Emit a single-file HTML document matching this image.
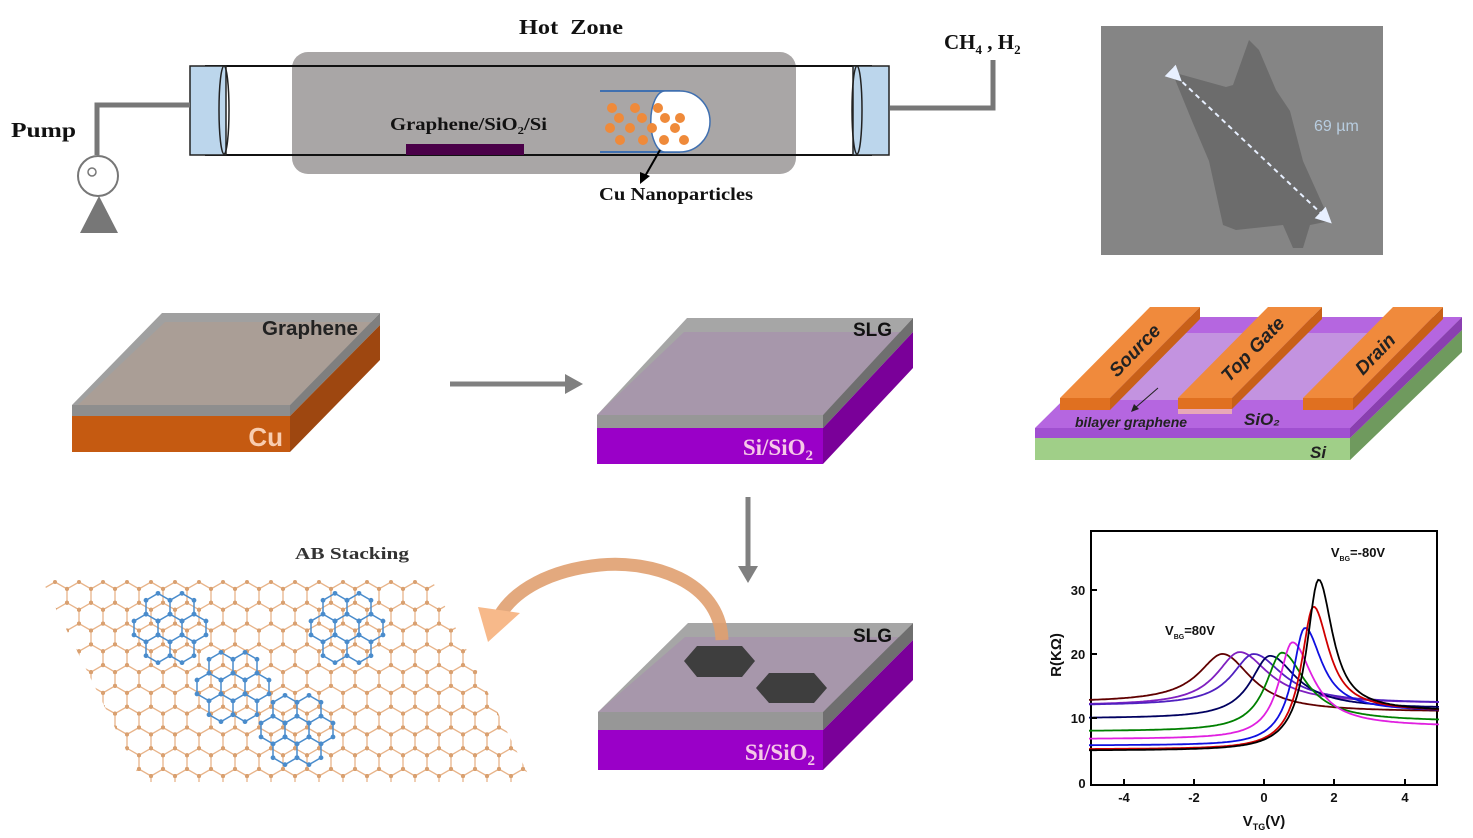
<!DOCTYPE html>
<html><head><meta charset="utf-8"><style>
html,body{margin:0;padding:0;background:#fff;}
svg{display:block;}
.tb{font-family:"Liberation Serif",serif;font-weight:bold;}
.sb{font-family:"Liberation Sans",sans-serif;font-weight:bold;}
</style></head><body>
<svg id="s" width="1473" height="838" viewBox="0 0 1473 838" xmlns="http://www.w3.org/2000/svg">
<defs>
<clipPath id="lat"><polygon points="40,576 430,576 532,782 142,782"/></clipPath>
<marker id="ah" markerWidth="8" markerHeight="8" refX="4" refY="4" orient="auto"><path d="M0,0 L8,4 L0,8 z" fill="#e8f0ff"/></marker>
</defs>

<!-- ===== Top CVD schematic ===== -->
<text x="519" y="34" class="tb" font-size="21" fill="#111" textLength="104" lengthAdjust="spacingAndGlyphs">Hot&#160; Zone</text>
<rect x="292" y="52" width="504" height="122" rx="16" fill="#a9a6a6"/>
<line x1="205" y1="66" x2="872" y2="66" stroke="#111" stroke-width="2"/>
<line x1="205" y1="155" x2="872" y2="155" stroke="#111" stroke-width="2"/>
<rect x="190" y="66" width="36" height="89" fill="#bcd6ec" stroke="#222" stroke-width="1.5"/>
<ellipse cx="224" cy="110" rx="5" ry="44" fill="none" stroke="#222" stroke-width="1.5"/>
<rect x="853" y="66" width="36" height="89" fill="#bcd6ec" stroke="#222" stroke-width="1.5"/>
<ellipse cx="857" cy="110" rx="5" ry="44" fill="none" stroke="#222" stroke-width="1.5"/>
<path d="M190,105 L97,105 L97,155" fill="none" stroke="#777" stroke-width="5"/>
<path d="M890,108 L993,108 L993,60" fill="none" stroke="#777" stroke-width="5"/>
<circle cx="98" cy="176" r="20" fill="#fff" stroke="#777" stroke-width="2"/>
<circle cx="92" cy="172" r="4" fill="none" stroke="#777" stroke-width="1.5"/>
<polygon points="80,233 118,233 99,196" fill="#777"/>
<text x="11" y="137" class="tb" font-size="21" fill="#111" textLength="65" lengthAdjust="spacingAndGlyphs">Pump</text>
<text x="944" y="49" class="tb" font-size="21" fill="#111">CH<tspan font-size="13" dy="5">4</tspan><tspan dy="-5"> , H</tspan><tspan font-size="13" dy="5">2</tspan></text>
<rect x="406" y="144" width="118" height="11" fill="#4a0048"/>
<text x="390" y="130" class="tb" font-size="18" fill="#111" textLength="157" lengthAdjust="spacingAndGlyphs">Graphene/SiO<tspan font-size="11" dy="4">2</tspan><tspan dy="-4">/Si</tspan></text>
<line x1="600" y1="91" x2="680" y2="91" stroke="#4070b0" stroke-width="2"/>
<line x1="600" y1="152" x2="680" y2="152" stroke="#4070b0" stroke-width="2"/>
<path d="M665,91 L680,91 A30,30.5 0 0 1 680,152 L665,152 A14,30 0 0 1 665,91 z" fill="#fff" stroke="#4070b0" stroke-width="1.5"/>
<g fill="#ef8a3a">
<circle cx="612" cy="108" r="5"/><circle cx="635" cy="108" r="5"/><circle cx="658" cy="108" r="5"/>
<circle cx="619" cy="118" r="5"/><circle cx="642" cy="118" r="5"/><circle cx="665" cy="118" r="5"/><circle cx="680" cy="118" r="5"/>
<circle cx="610" cy="128" r="5"/><circle cx="630" cy="128" r="5"/><circle cx="652" cy="128" r="5"/><circle cx="675" cy="128" r="5"/>
<circle cx="620" cy="140" r="5"/><circle cx="643" cy="140" r="5"/><circle cx="664" cy="140" r="5"/><circle cx="684" cy="140" r="5"/>
</g>
<line x1="660" y1="150" x2="644" y2="178" stroke="#000" stroke-width="2"/>
<polygon points="640,184 640,172 650,176" fill="#000"/>
<text x="599" y="200" class="tb" font-size="18" fill="#111" textLength="154" lengthAdjust="spacingAndGlyphs">Cu Nanoparticles</text>

<!-- ===== SEM image ===== -->
<rect x="1101" y="26" width="282" height="229" fill="#858585"/>
<polygon points="1172,72 1226,87 1233,85 1249,40 1259,50 1276,90 1290,111 1303,161 1330,221 1310,225 1303,248 1293,248 1283,225 1236,230 1223,225 1209,161 1192,121" fill="#6c6c6c"/>
<line x1="1176" y1="76" x2="1326" y2="218" stroke="#e8f0ff" stroke-width="2" stroke-dasharray="5,4" marker-start="url(#ah)" marker-end="url(#ah)"/>
<text x="1314" y="131" font-family="Liberation Sans,sans-serif" font-size="16" fill="#b8cde0">69 µm</text>

<!-- ===== Block 1 ===== -->
<polygon points="72,405 162,313 380,313 290,405" fill="#a0a0a0"/>
<polygon points="78,405 165,322 372,322 290,405" fill="#aa9e96"/>
<rect x="72" y="405" width="218" height="11" fill="#8e8e8e"/>
<rect x="72" y="416" width="218" height="36" fill="#c55a11"/>
<polygon points="290,405 380,313 380,325 290,416" fill="#7f7f7f"/>
<polygon points="290,416 380,325 380,360 290,452" fill="#9e4710"/>
<text x="358" y="335" class="sb" font-size="20" text-anchor="end" fill="#222" textLength="96" lengthAdjust="spacingAndGlyphs">Graphene</text>
<text x="283" y="446" class="sb" font-size="26" text-anchor="end" fill="#f8cdb0">Cu</text>

<line x1="450" y1="384" x2="568" y2="384" stroke="#808080" stroke-width="5"/>
<polygon points="565,374 583,384 565,394" fill="#808080"/>

<!-- ===== Block 2 ===== -->
<polygon points="597,415 687,318 913,318 823,415" fill="#a6a6a6"/>
<polygon points="597,415 684,332 903,332 823,415" fill="#a797ab"/>
<rect x="597" y="415" width="226" height="13" fill="#979797"/>
<rect x="597" y="428" width="226" height="36" fill="#9a00c8"/>
<polygon points="823,415 913,318 913,332 823,428" fill="#6f6f6f"/>
<polygon points="823,428 913,332 913,368 823,464" fill="#7a0099"/>
<text x="892" y="336" class="sb" font-size="19" text-anchor="end" fill="#111">SLG</text>
<text x="813" y="455" class="tb" font-size="23" text-anchor="end" fill="#f6c8e8">Si/SiO<tspan font-size="15" dy="5">2</tspan></text>

<line x1="748" y1="497" x2="748" y2="568" stroke="#808080" stroke-width="5"/>
<polygon points="738,566 748,583 758,566" fill="#808080"/>

<!-- ===== Block 3 ===== -->
<polygon points="598,712 688,623 913,623 823,712" fill="#a6a6a6"/>
<polygon points="598,712 685,637 903,637 823,712" fill="#a797ab"/>
<rect x="598" y="712" width="225" height="18" fill="#979797"/>
<rect x="598" y="730" width="225" height="40" fill="#9a00c8"/>
<polygon points="823,712 913,623 913,640 823,730" fill="#6f6f6f"/>
<polygon points="823,730 913,640 913,680 823,770" fill="#7a0099"/>
<polygon points="684,661 697,646 742,646 755,661 742,677 697,677" fill="#3e3e3e"/>
<polygon points="756,688 769,673 814,673 827,688 814,703 769,703" fill="#3e3e3e"/>
<text x="892" y="642" class="sb" font-size="19" text-anchor="end" fill="#111">SLG</text>
<text x="815" y="760" class="tb" font-size="23" text-anchor="end" fill="#f6c8e8">Si/SiO<tspan font-size="15" dy="5">2</tspan></text>

<path d="M722,640 C720,580 650,560 600,565 C550,570 515,590 500,615" fill="none" stroke="#e0a070" stroke-width="13" opacity=".9"/>
<polygon points="478,607 520,613 488,642" fill="#f7b98a"/>

<text x="295" y="559" class="tb" font-size="17" fill="#333" textLength="114" lengthAdjust="spacingAndGlyphs">AB Stacking</text>
<g id="latg" clip-path="url(#lat)"></g>
<g id="blue"></g>

<!-- ===== Device ===== -->
<polygon points="1035,438 1350,438 1462,330 1462,352 1350,460 1035,460" fill="#a0cf88"/>
<polygon points="1350,438 1462,330 1462,352 1350,460" fill="#6f9a5e"/>
<text x="1310" y="458" font-family="Liberation Sans,sans-serif" font-style="italic" font-weight="bold" font-size="17" fill="#222">Si</text>
<polygon points="1035,428 1147,317 1462,317 1350,428" fill="#b566e0"/>
<polygon points="1035,428 1350,428 1350,438 1035,438" fill="#a050d0"/>
<polygon points="1350,428 1462,317 1462,330 1350,438" fill="#8a3fb0"/>
<polygon points="1085,400 1162,333 1420,333 1343,400" fill="#c9a6df" opacity=".7"/>
<polygon points="1060,398 1150,307 1200,307 1110,398" fill="#f08a3c"/>
<rect x="1060" y="398" width="50" height="12" fill="#e07020"/>
<polygon points="1110,398 1200,307 1200,319 1110,410" fill="#c86018"/>
<polygon points="1178,398 1268,307 1322,307 1232,398" fill="#f08a3c"/>
<rect x="1178" y="398" width="54" height="11" fill="#e07020"/>
<rect x="1178" y="409" width="54" height="5" fill="#e8a8b8"/>
<polygon points="1232,398 1322,307 1322,319 1232,409" fill="#c86018"/>
<polygon points="1303,398 1393,307 1443,307 1353,398" fill="#f08a3c"/>
<rect x="1303" y="398" width="50" height="12" fill="#e07020"/>
<polygon points="1353,398 1443,307 1443,319 1353,410" fill="#c86018"/>
<g font-family="Liberation Sans,sans-serif" font-style="italic" font-weight="bold" fill="#222">
<text transform="translate(1117,378) rotate(-46)" font-size="19">Source</text>
<text transform="translate(1229,383) rotate(-46)" font-size="19">Top Gate</text>
<text transform="translate(1363,376) rotate(-46)" font-size="19">Drain</text>
<text x="1075" y="427" font-size="14">bilayer graphene</text>
<text x="1244" y="425" font-size="17">SiO₂</text>
</g>
<line x1="1158" y1="388" x2="1135" y2="408" stroke="#222" stroke-width="1"/>
<polygon points="1131,412 1134,404 1139,409" fill="#222"/>

<!-- ===== Graph ===== -->
<rect x="1091" y="531" width="346" height="254" fill="none" stroke="#000" stroke-width="2"/>
<g id="curves" fill="none" stroke-width="1.8"></g>
<g stroke="#000" stroke-width="2">
<line x1="1124" y1="785" x2="1124" y2="779"/><line x1="1194" y1="785" x2="1194" y2="779"/><line x1="1264" y1="785" x2="1264" y2="779"/><line x1="1334" y1="785" x2="1334" y2="779"/><line x1="1405" y1="785" x2="1405" y2="779"/>
<line x1="1091" y1="590" x2="1097" y2="590"/><line x1="1091" y1="654" x2="1097" y2="654"/><line x1="1091" y1="718" x2="1097" y2="718"/>
</g>
<g font-family="Liberation Sans,sans-serif" font-weight="bold" font-size="13" fill="#111" text-anchor="middle">
<text x="1124" y="802">-4</text><text x="1194" y="802">-2</text><text x="1264" y="802">0</text><text x="1334" y="802">2</text><text x="1405" y="802">4</text>
<text x="1078" y="595">30</text><text x="1078" y="659">20</text><text x="1078" y="723">10</text><text x="1082" y="788">0</text>
<text x="1264" y="826" font-size="15">V<tspan font-size="9" dy="4">TG</tspan><tspan dy="-4">(V)</tspan></text>
<text transform="translate(1061,655) rotate(-90)" font-size="15">R(KΩ)</text>
<text x="1358" y="557" font-size="13">V<tspan font-size="7" dy="4">BG</tspan><tspan dy="-4">=-80V</tspan></text>
<text x="1190" y="635" font-size="13">V<tspan font-size="7" dy="4">BG</tspan><tspan dy="-4">=80V</tspan></text>
</g>
</svg>
<script>
(function(){
var NS="http://www.w3.org/2000/svg";
function el(t,a,p){var e=document.createElementNS(NS,t);for(var k in a)e.setAttribute(k,a[k]);p.appendChild(e);return e;}
var w=24,s=w/Math.sqrt(3),dy=1.5*s;
function hex(cx,cy){var p=[];for(var i=0;i<6;i++){var a=Math.PI/180*(60*i-90);p.push([cx+s*Math.cos(a),cy+s*Math.sin(a)]);}return p;}
var g=document.getElementById('latg');var d="";var atoms=[];
for(var r=0;r<10;r++){for(var c=-1;c<18;c++){var cx=43+w/2+r*w/2+c*w,cy=582+s+r*dy;var p=hex(cx,cy);
d+="M"+p.map(function(q){return q[0].toFixed(1)+","+q[1].toFixed(1)}).join("L")+"Z";atoms=atoms.concat(p);}}
el('path',{d:d,fill:'none',stroke:'#e8b48a','stroke-width':1.3},g);
atoms.forEach(function(a){el('circle',{cx:a[0],cy:a[1],r:2,fill:'#d9a070'},g);});
var b=document.getElementById('blue');var bd="";var ba=[];
function flower(x,y){[[0,0],[w,0],[-w,0],[w/2,dy],[-w/2,dy],[w/2,-dy],[-w/2,-dy]].forEach(function(o){var p=hex(x+o[0],y+o[1]);bd+="M"+p.map(function(q){return q[0].toFixed(1)+","+q[1].toFixed(1)}).join("L")+"Z";ba=ba.concat(p);});}
flower(170,628);flower(347,628);flower(233,687);flower(297,730);
el('path',{d:bd,fill:'none',stroke:'#4a8ccc','stroke-width':1.5},b);
ba.forEach(function(a){el('circle',{cx:a[0],cy:a[1],r:2.4,fill:'#4a8ccc'},b);});
var cv=document.getElementById('curves');
var P=[["#600000",-1.15,20,12.5,11,.85,1],["#8020c0",-.7,20.3,12,12.3,.8,1],["#5020c0",-.3,20,12,12.3,.75,1],["#000060",.15,19.7,10,11.5,.65,.9],["#008000",.5,20.2,8,9.5,.55,.8],["#e020e0",.8,21.8,6.8,8.7,.45,.7],["#1010e0",1.15,24,5.8,11,.4,.6],["#d00000",1.4,27.3,5.2,11,.4,.55],["#000000",1.55,31.5,5,11,.4,.5]];
P.forEach(function(q){var pts=[];var b0=(q[3]+q[4])/2;for(var x=-5;x<=5.001;x+=0.05){var sg=1/(1+Math.exp(-(x-q[1])/0.5));var base=q[3]+(q[4]-q[3])*sg;var wd=x<q[1]?q[5]:q[6];var R=base+(q[2]-b0)/(1+Math.pow((x-q[1])/wd,2));pts.push((1264+35*x).toFixed(1)+","+(783-6.45*R).toFixed(1));}
el('polyline',{points:pts.join(" "),stroke:q[0]},cv);});
})();
</script>
</body></html>
